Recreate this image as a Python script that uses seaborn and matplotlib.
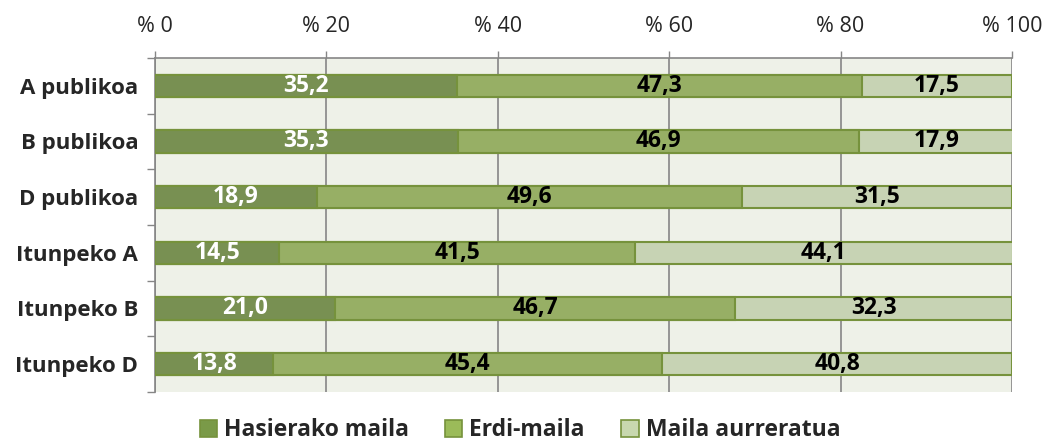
import matplotlib
matplotlib.use('Agg')

import numpy as np
import pandas as pd
import matplotlib.pyplot as plt
from matplotlib.patches import Patch
import seaborn as sns

# --- data ---
categories = ['A publikoa', 'B publikoa', 'D publikoa', 'Itunpeko A', 'Itunpeko B', 'Itunpeko D']
hasierako = [35.2, 35.3, 18.9, 14.5, 21.0, 13.8]
erdi = [47.3, 46.9, 49.6, 41.5, 46.7, 45.4]
aurreratua = [17.5, 17.9, 31.5, 44.1, 32.3, 40.8]
series_names = ['Hasierako maila', 'Erdi-maila', 'Maila aurreratua']
x_ticks = [0, 20, 40, 60, 80, 100]
x_ticklabels = ['% 0', '% 20', '% 40', '% 60', '% 80', '% 100']

colors = ['#7A9A48', '#9BBB59', '#C8D8AF']
edge = '#76923C'
bg = '#EEF1E8'

sns.set_theme(style='white')
plt.rcParams['font.family'] = ['Open Sans', 'DejaVu Sans']

df = pd.DataFrame({'cat': categories, 'h': hasierako, 'e': erdi, 'a': aurreratua})
df['c1'] = df['h']
df['c2'] = df['h'] + df['e']
df['c3'] = df['h'] + df['e'] + df['a']

fig = plt.figure(figsize=(10.46, 4.45), dpi=100)
ax = fig.add_axes([0.1482, 0.1191, 0.8193, 0.7506])
ax.set_facecolor(bg)

# stacked bars: draw cumulative totals from the longest down
for col, color in zip(['c3', 'c2', 'c1'], colors[::-1]):
    sns.barplot(data=df, x=col, y='cat', orient='h', color=color, width=0.4,
                edgecolor=edge, linewidth=1.5, ax=ax, zorder=3)

# value labels
for i in range(len(categories)):
    segs = [hasierako[i], erdi[i], aurreratua[i]]
    left = 0
    for j, v in enumerate(segs):
        ax.text(left + v / 2, i, f'{v:.1f}'.replace('.', ','), ha='center', va='center',
                fontsize=16.5, fontweight='bold', color='white' if j == 0 else 'black', zorder=5)
        left += v

ax.set_xlim(0, 100)
ax.set_ylim(len(categories) - 0.5, -0.5)
ax.set_xlabel('')
ax.set_ylabel('')

ax.xaxis.tick_top()
ax.set_xticks(x_ticks)
ax.set_xticklabels(x_ticklabels, fontsize=15.5)
ax.tick_params(axis='x', which='major', direction='out', length=5, width=1, color='#868686',
               top=True, bottom=False, pad=10)
ax.grid(axis='x', color='#868686', linewidth=1.2, zorder=0)
ax.set_axisbelow(True)

ax.set_yticks(range(len(categories)))
ax.set_yticklabels(categories, fontsize=16, fontweight='bold')
ax.tick_params(axis='y', which='major', length=0, pad=12)
ax.set_yticks(np.arange(-0.5, len(categories) + 0.5, 1), minor=True)
ax.tick_params(axis='y', which='minor', direction='out', length=6, width=1, color='#868686', left=True)

for s in ['right', 'bottom']:
    ax.spines[s].set_visible(False)
for s in ['top', 'left']:
    ax.spines[s].set_color('#868686')
    ax.spines[s].set_linewidth(1.2)

handles = [Patch(facecolor=c, edgecolor=edge, linewidth=1.2) for c in colors]
fig.legend(handles, series_names, loc='lower center', bbox_to_anchor=(0.497, -0.04), ncol=3,
           frameon=False, prop={'size': 16.5, 'weight': 'bold'}, handlelength=0.75, handleheight=0.75,
           handletextpad=0.3, columnspacing=1.6)

fig.savefig('out.png', dpi=100, facecolor='white')
